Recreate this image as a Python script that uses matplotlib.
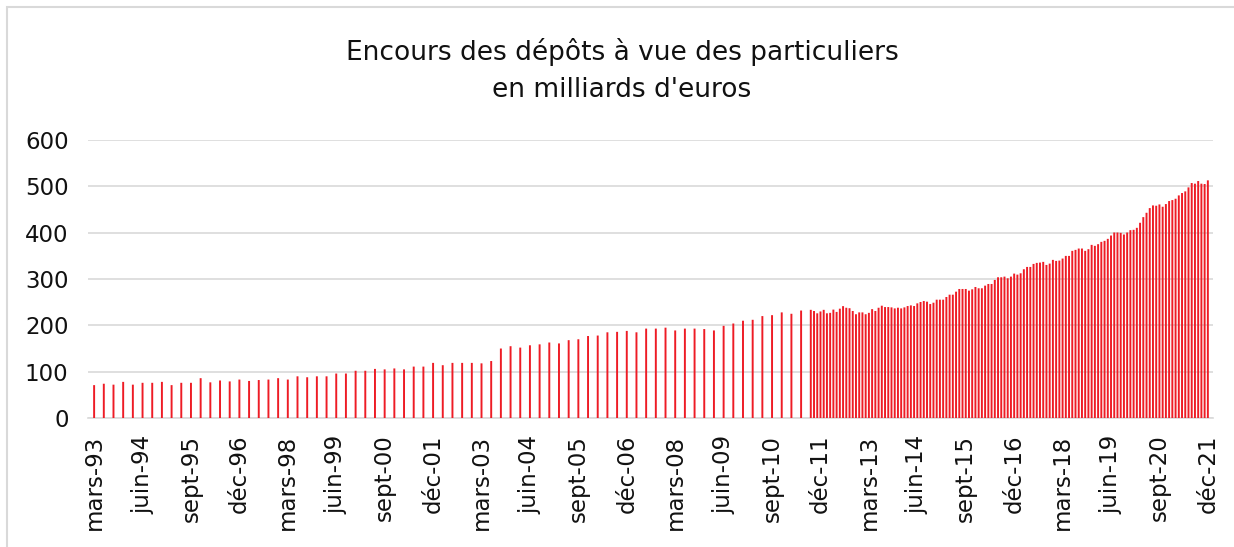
import matplotlib.pyplot as plt
import matplotlib.patches as mpatches
import numpy as np
import pandas as pd

# encours trimestriels (mars-93 -> juin-11), milliards d'euros
trim_vals = [71, 74, 72, 78, 72, 76, 76, 78, 71, 76, 76, 86, 77, 81, 79,
             83, 80, 82, 83, 86, 83, 90, 88, 90, 90, 96, 96, 102, 102, 106,
             105, 107, 105, 111, 111, 119, 114, 119, 119, 119, 118, 123, 150, 155, 152,
             157, 159, 163, 161, 168, 170, 177, 178, 185, 186, 188, 185, 193, 193, 195,
             189, 193, 193, 192, 189, 199, 204, 210, 212, 220, 222, 228, 225, 232]

# encours mensuels (sept-11 -> dec-21)
mens_vals = [233.5, 231, 226, 230, 233.5, 226, 227, 234, 229, 236, 241.5, 238,
             237, 231, 224, 228, 228, 224, 227, 235, 231, 238,
             242.4, 239.5, 239.5, 238.8, 236.6, 238.1, 236.6, 238.8, 241.7, 243.1,
             241.7, 247.5, 250.4, 252.5, 251.1, 246.0, 248.9, 255.4, 255.4, 255.4,
             261.2, 266.2, 266.2, 272.7, 278.5, 278.5, 278.5, 274.9, 277.8, 282.8,
             280.0, 280.0, 285.7, 289.3, 289.3, 298.0, 303.8, 303.8, 305.2, 301.6,
             305.2, 311.7, 309.5, 312.4, 321.1, 326.1, 326.1, 332.6, 334.8, 335.5,
             337.0, 330.4, 333.3, 341.3, 339.1, 339.8, 344.2, 349.9, 349.9, 360.8,
             362.9, 365.8, 365.8, 360.8, 364.4, 373.7, 371.6, 375.2, 380.2, 382.4,
             386.7, 393.9, 400.4, 400.4, 399.7, 396.1, 400.4, 405.5, 406.2, 410.5,
             421.4, 433.6, 443.0, 453.1, 458.9, 458.2, 461.0, 456.0, 461.8, 468.3,
             470.4, 473.3, 480.5, 485.6, 489.2, 497.8, 507.2, 505.8, 511.5, 505.8,
             505.1, 513.0]

tick_labels = ['mars-93', 'juin-94', 'sept-95', 'déc-96', 'mars-98', 'juin-99',
               'sept-00', 'déc-01', 'mars-03', 'juin-04', 'sept-05', 'déc-06',
               'mars-08', 'juin-09', 'sept-10', 'déc-11', 'mars-13', 'juin-14',
               'sept-15', 'déc-16', 'mars-18', 'juin-19', 'sept-20', 'déc-21']

d_trim = pd.date_range('1993-03-01', '2011-06-01', freq='3MS')
d_mens = pd.date_range('2011-09-01', '2021-12-01', freq='MS')
start = pd.Timestamp('1993-03-01')


def mois(d):
    return (d.year - start.year) * 12 + (d.month - start.month)


x = np.concatenate([mois(d_trim), mois(d_mens)])
y = np.concatenate([trim_vals, mens_vals])

plt.rcParams['font.family'] = ['DejaVu Sans']

fig = plt.figure(figsize=(12.34, 5.47), dpi=100)
ax = fig.add_axes([0.0713, 0.2358, 0.9117, 0.5082])

bars = ax.bar(x, y, width=0.6, color='#ee1c25', linewidth=0, zorder=3)
for b in bars:
    b.set_snap(False)

ax.set_ylim(0, 600)
ax.set_xlim(-1.9, 346.6)
ax.set_yticks(np.arange(0, 601, 100))
ax.yaxis.grid(True, color='#d9d9d9', linewidth=1.2, zorder=0)
ax.set_xticks(np.arange(len(tick_labels)) * 15)
ax.set_xticklabels(tick_labels, rotation=90)
ax.tick_params(axis='both', length=0, labelsize=16.5, colors='#111111')
ax.tick_params(axis='y', pad=14)
ax.tick_params(axis='x', pad=12)

for s in ['top', 'right', 'left']:
    ax.spines[s].set_visible(False)
ax.spines['bottom'].set_color('#d9d9d9')
ax.spines['bottom'].set_linewidth(1.2)

fig.text(0.504, 0.890, "Encours des dépôts à vue des particuliers",
         ha='center', va='baseline', fontsize=19, color='#111111')
fig.text(0.504, 0.823, "en milliards d'euros",
         ha='center', va='baseline', fontsize=19, color='#111111')

fig.patches.append(mpatches.Rectangle((0.0057, -0.05), 1.2, 1.037, transform=fig.transFigure,
                                      fill=False, edgecolor='#d9d9d9', linewidth=1.5))

fig.savefig('out.png', dpi=100)
